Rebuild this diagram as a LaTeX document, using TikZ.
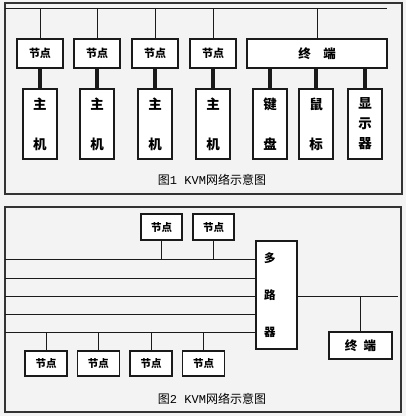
\documentclass[tikz,border=0pt]{standalone}
\usepackage{fontspec}
\newfontfamily\cjk{Noto Sans CJK SC}
\newfontfamily\cjkmono{Liberation Mono}
\usepackage{xcolor}
\definecolor{panelGray}{HTML}{F3F3F3}
\definecolor{frameGray}{HTML}{333333}
\definecolor{lineDark}{HTML}{1A1A1A}
\usetikzlibrary{positioning}
\tikzset{
  every picture/.append style={font=\cjk},
  box/.style={rectangle,draw=lineDark,fill=white,line width=1.3pt,inner sep=0pt,align=center},
  nodebox/.style={box,minimum width=46pt,minimum height=29pt,font=\cjk\bfseries\fontsize{11}{13}\selectfont},
  smallnode/.style={box,minimum width=41pt,minimum height=26pt,font=\cjk\bfseries\fontsize{10.5}{12}\selectfont},
  hostbox/.style={box,minimum width=34pt,minimum height=70pt,font=\cjk\bfseries\fontsize{13.5}{20}\selectfont},
  termbox/.style={box,font=\cjk\bfseries\fontsize{12.5}{14}\selectfont},
  panel/.style={draw=frameGray,line width=1.2pt},
  thinline/.style={draw=lineDark,line width=1pt},
  thickline/.style={draw=lineDark,line width=4.2pt},
  caption/.style={font=\cjk\fontsize{12}{14}\selectfont,text=black},
}

\begin{document}
\begin{tikzpicture}[x=1pt,y=-1pt]
  \fill[panelGray] (0,0) rectangle (406,416);
  \useasboundingbox (0,0) rectangle (406,416);

  % figure 1
  \draw[panel] (5,3) rectangle (402,194);
  \coordinate (busL) at (5,8);
  \coordinate (busR) at (387,8);
  \draw[thinline] (busL) -- (busR);

  \foreach \i/\x in {1/40,2/97,3/155,4/213} {%
    \node[nodebox] (n\i) at (\x,53.5) {节点};
    \node[hostbox] (h\i) at (\x,124) {主\\[20pt]机};
    \draw[thinline] (n\i.north) -- (n\i.north |- busL);
    \draw[thickline] (n\i.south) -- (h\i.north);
  }

  \node[termbox, minimum width=140pt, minimum height=29pt] (term) at (317,53.5) {终\hspace{1em}端};
  \draw[thinline] (term.north) -- (term.north |- busL);

  \node[hostbox] (kbd) at (270,124) {键\\[20pt]盘};
  \node[hostbox] (mouse) at (316,124) {鼠\\[20pt]标};
  \node[hostbox] (disp) at (365,124) {显\\示\\器};
  \foreach \d in {kbd,mouse,disp} {%
    \draw[thickline] (term.south -| \d.north) -- (\d.north);
  }

  \node[caption] (cap1) at (212,180) {图{\cjkmono 1 KVM}网络示意图};

  % figure 2
  \draw[panel] (5,207) rectangle (401,412);

  \node[box, minimum width=41pt, minimum height=108pt, text width=25pt, inner xsep=8pt, align=left,
        font=\cjk\bfseries\fontsize{11.5}{37}\selectfont] (mux) at (276.5,295) {多\\路\\器};

  \foreach \k/\y in {1/259.3,2/278,3/296.7,4/314.5,5/332} {%
    \coordinate (L\k) at (5,\y);
    \draw[thinline] (L\k) -- (L\k -| mux.west);
  }

  \node[smallnode] (tn1) at (161.5,227) {节点};
  \node[smallnode] (tn2) at (213.5,227) {节点};
  \foreach \t in {tn1,tn2} {%
    \draw[thinline] (\t.south) -- (\t.south |- L1);
  }

  \foreach \j/\x in {1/46,2/98.5,3/151,4/203.5} {%
    \node[smallnode, minimum width=42pt, minimum height=25pt] (bn\j) at (\x,363.5) {节点};
    \draw[thinline] (bn\j.north) -- (bn\j.north |- L5);
  }

  \coordinate (outR) at (398,296.7);
  \draw[thinline] (mux.east |- outR) -- (outR);
  \node[termbox, minimum width=63pt, minimum height=27pt] (term2) at (360.5,345.5) {终\hspace{0.5em}端};
  \draw[thinline] (term2.north) -- (term2.north |- outR);

  \node[caption] (cap2) at (212,399) {图{\cjkmono 2 KVM}网络示意图};
\end{tikzpicture}
\end{document}
